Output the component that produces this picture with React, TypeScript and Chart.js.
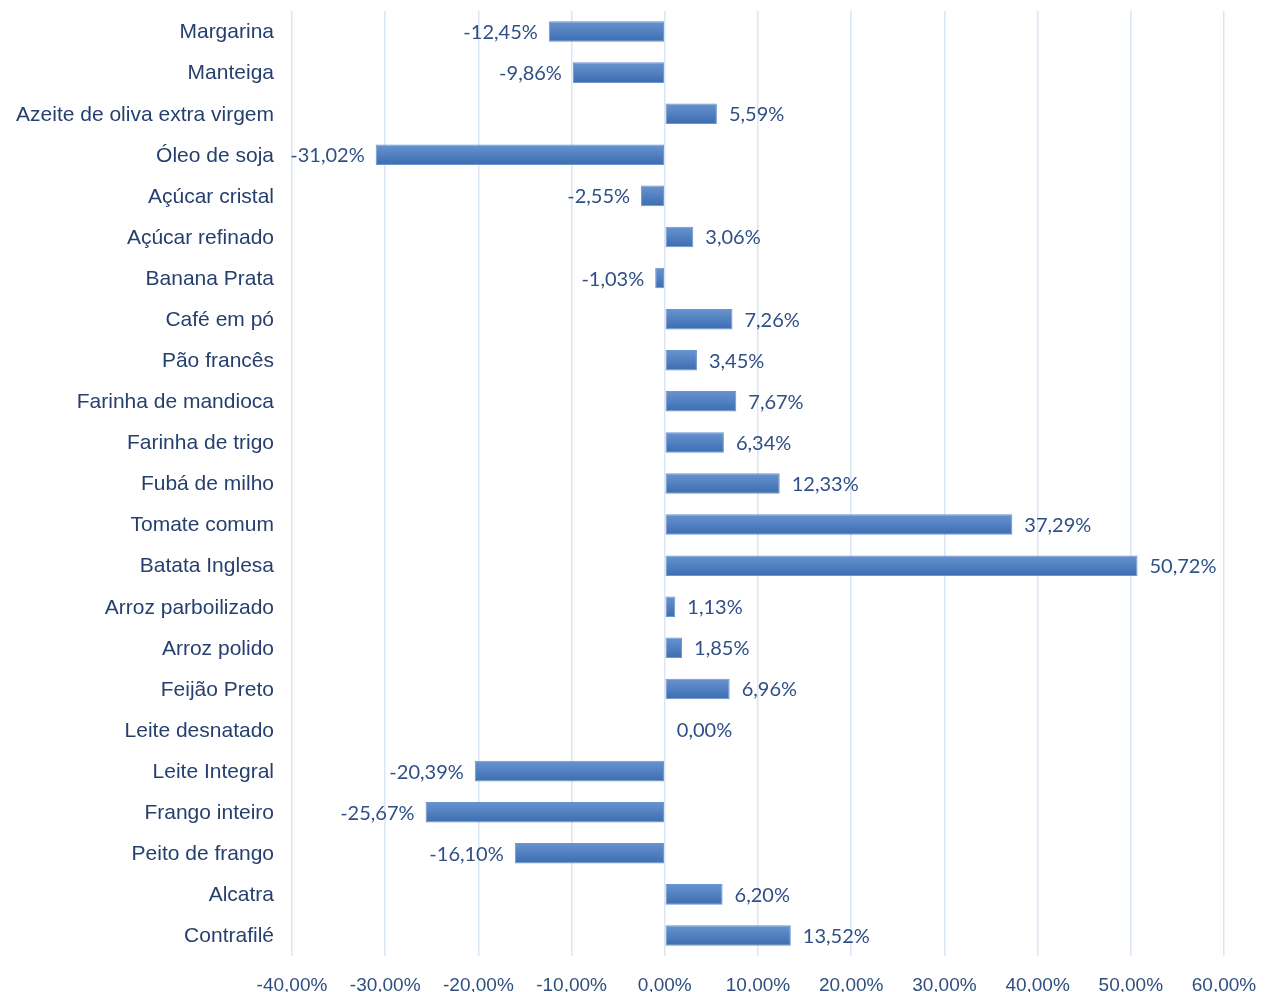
import React, { useEffect, useRef } from "react";
import { Chart, registerables } from "chart.js";

Chart.register(...registerables);

const categories = [
  "Margarina", "Manteiga", "Azeite de oliva extra virgem", "Óleo de soja", "Açúcar cristal",
  "Açúcar refinado", "Banana Prata", "Café em pó", "Pão francês", "Farinha de mandioca",
  "Farinha de trigo", "Fubá de milho", "Tomate comum", "Batata Inglesa", "Arroz parboilizado",
  "Arroz polido", "Feijão Preto", "Leite desnatado", "Leite Integral", "Frango inteiro",
  "Peito de frango", "Alcatra", "Contrafilé",
];
const values = [
  -12.45, -9.86, 5.59, -31.02, -2.55, 3.06, -1.03, 7.26, 3.45, 7.67, 6.34, 12.33, 37.29,
  50.72, 1.13, 1.85, 6.96, 0.0, -20.39, -25.67, -16.1, 6.2, 13.52,
];
const xMin = -40;
const xMax = 60;
const xStep = 10;

const BAR_PCT = 1.0;
const CAT_PCT = 0.5;

const fmt = (v: number) => v.toFixed(2).replace(".", ",") + "%";

const barFill = (c: any) => {
  const chart = c.chart;
  const ys = chart.scales && chart.scales.y;
  if (!ys || c.dataIndex === undefined) return "#4f7fc0";
  const center = ys.getPixelForValue(c.dataIndex);
  const slot = (ys.bottom - ys.top) / categories.length;
  const h = slot * BAR_PCT * CAT_PCT;
  if (!isFinite(center) || !isFinite(h) || h <= 0) return "#4f7fc0";
  const g = chart.ctx.createLinearGradient(0, center - h / 2, 0, center + h / 2);
  g.addColorStop(0, "#6893cf");
  g.addColorStop(1, "#3c6db1");
  return g;
};

const labelPlugin = {
  id: "valueLabels",
  afterDatasetsDraw(chart: any) {
    const ctx = chart.ctx;
    const meta = chart.getDatasetMeta(0);
    ctx.save();
    ctx.font = "20px Lato, 'Liberation Sans', sans-serif";
    ctx.fillStyle = "#2f4f86";
    ctx.textBaseline = "middle";
    meta.data.forEach((el: any, i: number) => {
      const v = values[i];
      const txt = fmt(v);
      if (v < 0) {
        ctx.textAlign = "right";
        ctx.fillText(txt, el.x - 11, el.y + 1);
      } else {
        ctx.textAlign = "left";
        ctx.fillText(txt, el.x + 12, el.y + 1);
      }
    });
    ctx.restore();
  },
};

export default function App() {
  const ref = useRef<HTMLCanvasElement>(null);
  useEffect(() => {
    if (!ref.current) return;
    const chart = new Chart(ref.current, {
      type: "bar",
      data: {
        labels: categories,
        datasets: [
          {
            data: values,
            backgroundColor: barFill,
            borderColor: "#6a96d0",
            borderWidth: 1,
            borderSkipped: false,
            barPercentage: BAR_PCT,
            categoryPercentage: CAT_PCT,
          },
        ],
      },
      options: {
        indexAxis: "y",
        responsive: false,
        maintainAspectRatio: false,
        animation: false,
        layout: { padding: { top: 11, right: 43, left: 0, bottom: 0 } },
        plugins: { legend: { display: false }, tooltip: { enabled: false } },
        scales: {
          x: {
            min: xMin,
            max: xMax,
            ticks: {
              stepSize: xStep,
              padding: 18,
              color: "#2f4f7f",
              font: { family: "'Liberation Sans Narrow', 'Liberation Sans', sans-serif", size: 19 },
              callback: (v: any) => fmt(Number(v)),
            },
            grid: { color: "#dae6f3", lineWidth: 1.5, drawTicks: false },
            border: { display: false },
            afterFit: (s: any) => {
              s.height = 36;
              s.paddingLeft = 0;
              s.paddingRight = 0;
            },
          },
          y: {
            ticks: {
              padding: 18,
              labelOffset: 1,
              color: "#253f6e",
              font: { family: "'Liberation Sans', Arial, sans-serif", size: 21 },
            },
            grid: { display: false, drawTicks: false },
            border: { display: false },
            afterFit: (s: any) => {
              s.width = 292;
              s.paddingTop = 0;
              s.paddingBottom = 0;
            },
          },
        },
      },
      plugins: [labelPlugin],
    });
    return () => chart.destroy();
  }, []);
  return (
    <div style={{ position: "fixed", left: 0, top: 0, width: 1267, height: 992, background: "#fff" }}>
      <canvas ref={ref} width={1267} height={992} />
    </div>
  );
}
